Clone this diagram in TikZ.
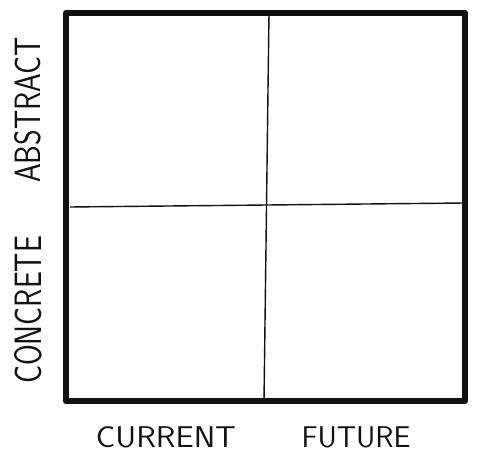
\documentclass[tikz,border=0pt]{standalone}
\usepackage{xcolor}
\definecolor{InkBlack}{HTML}{111111}
\usetikzlibrary{positioning, calc}

\begin{document}
\begin{tikzpicture}[
  x=1pt, y=-1pt,
  % === GRUNDSTILE ===
  % Rahmen aussen
  frame/.style={
    draw=InkBlack,
    line width=6.5pt,
    line join=round,
    line cap=round
  },
  % Trennlinien innen
  divider/.style={
    draw=InkBlack,
    line width=1.4pt
  },
  % Achsenbeschriftung
  axislbl/.style={
    font=\sffamily\fontsize{30}{34}\selectfont,
    color=InkBlack,
    xscale=#1
  },
  axislbl/.default=1
]

% =============================================================================
% HINTERGRUND
% =============================================================================
\fill[white] (0,0) rectangle (496,454);

% =============================================================================
% RASTER
% =============================================================================
\coordinate (nw) at (66,13);
\coordinate (ne) at (465,13);
\coordinate (se) at (465,401);
\coordinate (sw) at (66,401);
\coordinate (top) at (269,13);
\coordinate (bot) at (264,401);
\coordinate (lft) at (70,207);
\coordinate (rgt) at (465,203);

\draw[divider] (top) -- (bot);
\draw[divider] (lft) -- (rgt);
\draw[frame] (nw) -- (ne) -- (se) -- (sw) -- cycle;

% =============================================================================
% BESCHRIFTUNG
% =============================================================================
\node[axislbl=1.22, rotate=90] (abstract) at (28,110) {ABSTRACT};
\node[axislbl=1.27, rotate=90] (concrete) at (28,310) {CONCRETE};
\node[axislbl=1.08] (current) at (166,437) {CURRENT};
\node[axislbl=1.0] (future) at (356,437) {FUTURE};

\end{tikzpicture}
\end{document}
